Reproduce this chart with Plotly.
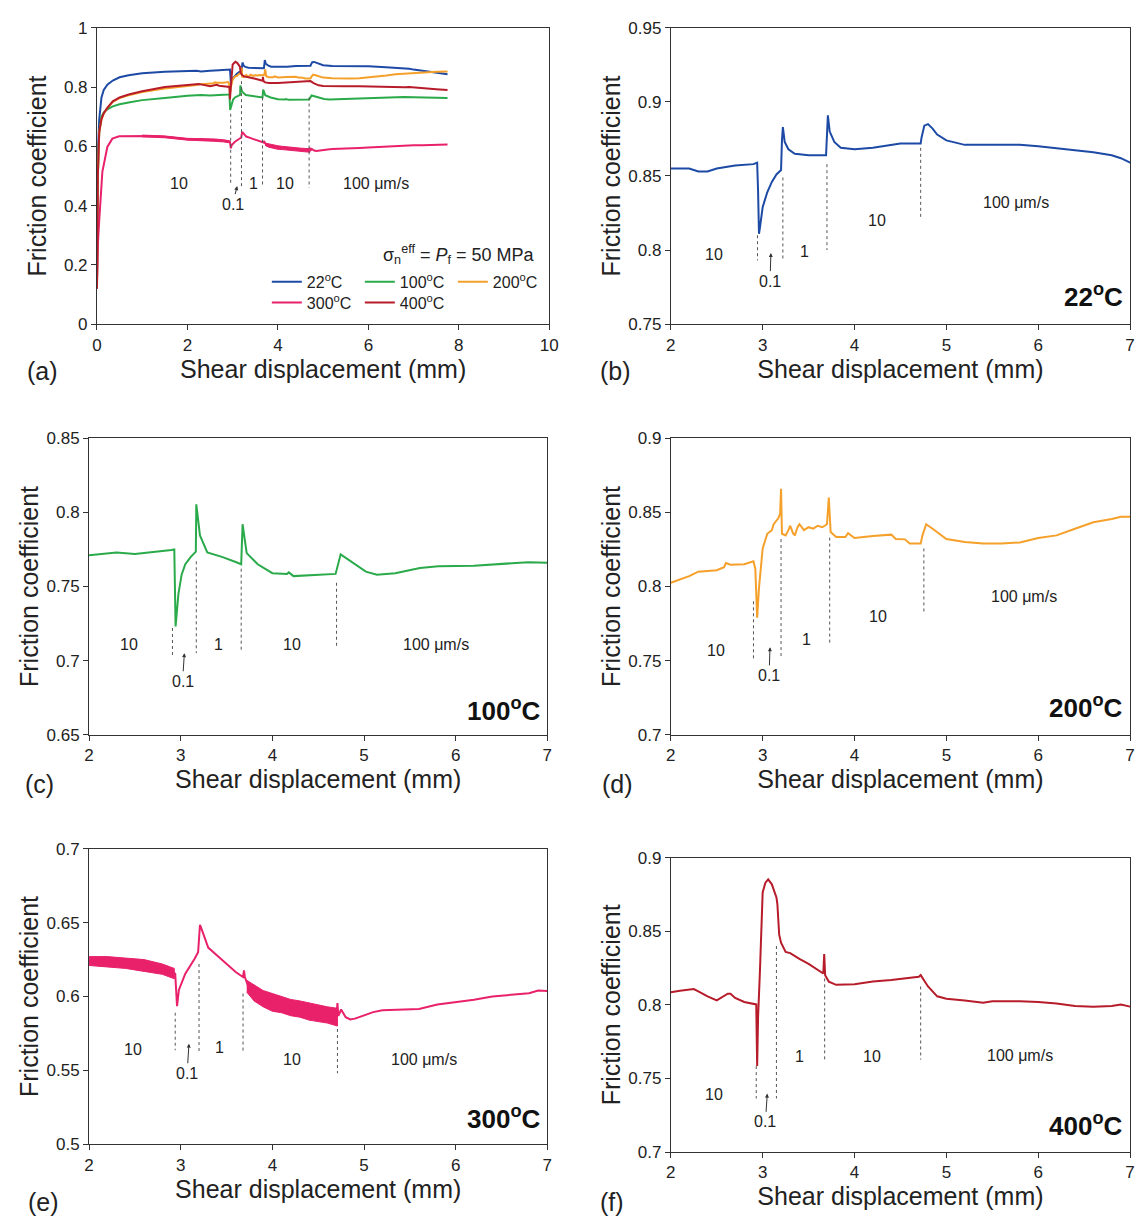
import plotly.graph_objects as go

# ---------------- data ----------------
x22 = [0, 0.01, 0.02, 0.05, 0.1, 0.15, 0.23, 0.35, 0.5, 0.7, 1.0, 1.5, 2.0, 2.2, 2.3, 2.4, 2.5, 2.7, 2.9, 2.94,
       2.95, 2.96, 2.97, 3.0, 3.05, 3.1, 3.15, 3.2, 3.21, 3.22, 3.24, 3.28, 3.35, 3.5, 3.69, 3.70, 3.71, 3.73,
       3.78, 3.85, 4.0, 4.2, 4.4, 4.5, 4.72, 4.73, 4.76, 4.8, 4.85, 4.9, 5.0, 5.2, 5.5, 5.8, 6.0, 6.3, 6.6,
       6.8, 6.9, 7.0, 7.3, 7.5, 7.75]
y22 = [0.12, 0.35, 0.57, 0.69, 0.765, 0.79, 0.808, 0.822, 0.833, 0.84, 0.847, 0.852, 0.855, 0.855, 0.853, 0.853,
       0.855, 0.857, 0.858, 0.859, 0.84, 0.811, 0.815, 0.829, 0.839, 0.846, 0.851, 0.854, 0.874, 0.883, 0.873,
       0.868, 0.865, 0.864, 0.864, 0.876, 0.891, 0.880, 0.873, 0.869, 0.868, 0.869, 0.871, 0.872, 0.872, 0.876,
       0.884, 0.885, 0.882, 0.878, 0.874, 0.871, 0.871, 0.871, 0.870, 0.868, 0.866, 0.864, 0.862, 0.859, 0.853,
       0.848, 0.843]

x100 = [0, 0.01, 0.02, 0.05, 0.1, 0.15, 0.23, 0.35, 0.5, 0.7, 1.0, 1.5, 2.0, 2.3, 2.5, 2.9, 2.93, 2.944, 2.975,
        3.01, 3.05, 3.11, 3.165, 3.17, 3.21, 3.29, 3.45, 3.6, 3.66, 3.675, 3.72, 3.84, 4.0, 4.16, 4.18, 4.23,
        4.43, 4.69, 4.745, 4.86, 5.02, 5.14, 5.34, 5.61, 5.81, 6.2, 6.6, 6.79, 7.0, 7.3, 7.5, 7.75]
y100 = [0.12, 0.3, 0.5, 0.648, 0.7, 0.715, 0.725, 0.735, 0.742, 0.748, 0.756, 0.763, 0.771, 0.773, 0.772, 0.7746,
        0.775, 0.723, 0.745, 0.758, 0.765, 0.770, 0.7735, 0.8055, 0.7845, 0.773, 0.770, 0.7665, 0.765, 0.792,
        0.7725, 0.765, 0.759, 0.7585, 0.7595, 0.757, 0.7576, 0.7585, 0.7717, 0.767, 0.760, 0.758, 0.759, 0.7625,
        0.7636, 0.764, 0.7653, 0.7664, 0.766, 0.765, 0.764, 0.763]

x200 = [0, 0.01, 0.02, 0.05, 0.1, 0.15, 0.23, 0.35, 0.5, 0.7, 1.0, 1.5, 2.0, 2.2, 2.3, 2.5, 2.58, 2.6, 2.65, 2.8,
        2.9, 2.92, 2.94, 2.96, 3.0, 3.05, 3.1, 3.12, 3.15, 3.17, 3.19, 3.2, 3.21, 3.25, 3.28, 3.3, 3.33, 3.35,
        3.38, 3.4, 3.45, 3.5, 3.55, 3.6, 3.65, 3.7, 3.72, 3.74, 3.8, 3.9, 3.93, 4.0, 4.2, 4.4, 4.45, 4.55, 4.6,
        4.72, 4.74, 4.78, 4.85, 5.0, 5.2, 5.4, 5.6, 5.8, 6.0, 6.2, 6.4, 6.6, 6.8, 6.9, 7.0, 7.2, 7.5, 7.75]
y200 = [0.12, 0.3, 0.5, 0.648, 0.69, 0.71, 0.73, 0.75, 0.763, 0.772, 0.783, 0.795, 0.8025, 0.807, 0.810, 0.811,
        0.813, 0.8158, 0.8147, 0.815, 0.817, 0.812, 0.779, 0.799, 0.8257, 0.8356, 0.838, 0.842, 0.8444, 0.846,
        0.849, 0.866, 0.8356, 0.8345, 0.838, 0.841, 0.836, 0.8345, 0.840, 0.842, 0.838, 0.840, 0.839, 0.841,
        0.840, 0.842, 0.860, 0.8367, 0.8334, 0.8334, 0.836, 0.8327, 0.834, 0.835, 0.832, 0.8318, 0.829, 0.829,
        0.8345, 0.842, 0.839, 0.832, 0.830, 0.829, 0.829, 0.8297, 0.8327, 0.8345, 0.839, 0.8433, 0.8455, 0.847,
        0.847, 0.850, 0.852, 0.853]

x300 = [0, 0.01, 0.02, 0.05, 0.12, 0.23, 0.34, 0.49, 0.8, 1.2, 1.5, 2.0, 2.2, 2.4, 2.6, 2.8, 2.9, 2.94, 2.96,
        2.98, 3.05, 3.1, 3.15, 3.19, 3.21, 3.23, 3.3, 3.4, 3.5, 3.6, 3.68, 3.69, 3.7, 3.72, 3.75, 3.9, 4.1, 4.3,
        4.5, 4.7, 4.71, 4.72, 4.75, 4.8, 4.85, 4.9, 5.0, 5.1, 5.2, 5.4, 5.6, 5.8, 6.0, 6.2, 6.4, 6.6, 6.8, 6.9,
        7.0, 7.2, 7.5, 7.75]
y300 = [0.12, 0.2, 0.27, 0.349, 0.515, 0.598, 0.626, 0.634, 0.635, 0.635, 0.632, 0.6243, 0.6243, 0.623, 0.6216,
        0.6188, 0.6166, 0.6155, 0.5934, 0.6044, 0.6155, 0.620, 0.6254, 0.630, 0.6486, 0.6453, 0.6331, 0.6276,
        0.622, 0.6166, 0.6132, 0.6176, 0.6132, 0.610, 0.6044, 0.5978, 0.5945, 0.5912, 0.5879, 0.5868, 0.5956,
        0.5868, 0.5912, 0.586, 0.5845, 0.585, 0.5872, 0.5894, 0.5907, 0.5912, 0.5916, 0.5945, 0.596, 0.5978,
        0.600, 0.6011, 0.6022, 0.604, 0.6037, 0.604, 0.605, 0.606]
# noisy envelopes of the 300 C record
band1_x = [1.0, 1.5, 2.0, 2.2, 2.4, 2.6, 2.8, 2.93]
band1_hi = [0.638, 0.635, 0.627, 0.627, 0.626, 0.625, 0.622, 0.619]
band1_lo = [0.632, 0.629, 0.621, 0.620, 0.619, 0.617, 0.615, 0.612]
band2_x = [3.72, 3.8, 3.9, 4.0, 4.1, 4.2, 4.3, 4.4, 4.5, 4.6, 4.71]
band2_hi = [0.611, 0.608, 0.604, 0.602, 0.600, 0.598, 0.597, 0.5955, 0.594, 0.593, 0.592]
band2_lo = [0.603, 0.597, 0.593, 0.590, 0.589, 0.587, 0.586, 0.584, 0.583, 0.582, 0.580]

x400 = [0, 0.01, 0.02, 0.05, 0.1, 0.15, 0.23, 0.35, 0.5, 0.7, 1.0, 1.5, 2.0, 2.1, 2.25, 2.3, 2.4, 2.5, 2.55,
        2.62, 2.65, 2.7, 2.8, 2.9, 2.93, 2.94, 2.95, 2.97, 3.0, 3.03, 3.06, 3.1, 3.15, 3.16, 3.18, 3.2, 3.25,
        3.3, 3.4, 3.5, 3.6, 3.66, 3.67, 3.68, 3.72, 3.8, 4.0, 4.2, 4.4, 4.6, 4.7, 4.72, 4.8, 4.9, 5.0, 5.2,
        5.4, 5.5, 5.8, 6.0, 6.2, 6.4, 6.6, 6.8, 6.9, 7.0, 7.3, 7.5, 7.75]
y400 = [0.12, 0.3, 0.5, 0.648, 0.692, 0.712, 0.73, 0.752, 0.765, 0.775, 0.786, 0.800, 0.8085, 0.8096, 0.8107,
        0.8092, 0.8058, 0.803, 0.8047, 0.8076, 0.8075, 0.8047, 0.802, 0.801, 0.8003, 0.7584, 0.7915, 0.8224,
        0.8764, 0.883, 0.8852, 0.8819, 0.873, 0.8687, 0.8477, 0.8422, 0.836, 0.8352, 0.8312, 0.8279, 0.8235,
        0.8213, 0.8345, 0.8202, 0.8158, 0.8136, 0.814, 0.8158, 0.8169, 0.8184, 0.8191, 0.8202, 0.8125, 0.8058,
        0.8041, 0.803, 0.8014, 0.8025, 0.8025, 0.8019, 0.801, 0.7992, 0.7988, 0.7992, 0.8003, 0.7988, 0.795,
        0.793, 0.790]

series_names = ["22<sup>o</sup>C", "100<sup>o</sup>C", "200<sup>o</sup>C", "300<sup>o</sup>C", "400<sup>o</sup>C"]
panel_titles = ["22<sup>o</sup>C", "100<sup>o</sup>C", "200<sup>o</sup>C", "300<sup>o</sup>C", "400<sup>o</sup>C"]
colors = ["#1d4aa5", "#2aaa4a", "#f5a02a", "#e8216a", "#b71c2a"]

# velocity-step markers (x position, top, bottom) per panel
steps = {
    "a": ([2.956, 3.195, 3.66, 4.69], [0.71, 0.82, 0.765, 0.765], [0.472, 0.46, 0.465, 0.46]),
    "b": ([2.944, 3.22, 3.70, 4.72], [0.810, 0.849, 0.858, 0.869], [0.793, 0.793, 0.800, 0.822]),
    "c": ([2.91, 3.17, 3.66, 4.70], [0.722, 0.767, 0.762, 0.7525], [0.703, 0.705, 0.707, 0.708]),
    "d": ([2.90, 3.20, 3.73, 4.755], [0.790, 0.832, 0.833, 0.8257], [0.7507, 0.752, 0.762, 0.7816]),
    "e": ([2.94, 3.20, 3.68, 4.71], [0.589, 0.622, 0.602, 0.578], [0.5636, 0.5625, 0.5625, 0.548]),
    "f": ([2.93, 3.15, 3.675, 4.72], [0.7584, 0.84, 0.818, 0.8125], [0.7364, 0.7364, 0.7617, 0.7628]),
}
# velocity labels: (text, x, y)
vel_labels = {
    "a": [("10", 1.82, 0.474), ("1", 3.46, 0.474), ("10", 4.16, 0.474), ("100 \u03bcm/s", 6.17, 0.474)],
    "b": [("10", 2.47, 0.797), ("1", 3.46, 0.799), ("10", 4.24, 0.820), ("100 \u03bcm/s", 5.76, 0.832)],
    "c": [("10", 2.44, 0.711), ("1", 3.41, 0.711), ("10", 4.21, 0.711), ("100 \u03bcm/s", 5.78, 0.711)],
    "d": [("10", 2.49, 0.757), ("1", 3.48, 0.764), ("10", 4.26, 0.780), ("100 \u03bcm/s", 5.84, 0.793)],
    "e": [("10", 2.48, 0.5642), ("1", 3.42, 0.5653), ("10", 4.21, 0.5576), ("100 \u03bcm/s", 5.65, 0.557)],
    "f": [("10", 2.47, 0.7393), ("1", 3.40, 0.7646), ("10", 4.19, 0.7646), ("100 \u03bcm/s", 5.80, 0.7657)],
}
# "0.1" arrow: tip (x, y), text (x, y)
arrows = {
    "a": (3.10, 0.466, 3.00, 0.405),
    "b": (3.09, 0.798, 3.08, 0.779),
    "c": (3.04, 0.705, 3.02, 0.686),
    "d": (3.08, 0.759, 3.07, 0.740),
    "e": (3.09, 0.568, 3.07, 0.548),
    "f": (3.05, 0.7397, 3.03, 0.7205),
}
temp_label_y = {"b": 0.769, "c": 0.667, "d": 0.719, "e": 0.518, "f": 0.7187}

# axes ranges and ticks
xr_a, xt_a = [0, 10], [0, 2, 4, 6, 8, 10]
yr_a, yt_a = [0, 1], [0, 0.2, 0.4, 0.6, 0.8, 1]
yt_a_txt = ["0", "0.2", "0.4", "0.6", "0.8", "1"]
xr_d, xt_d = [2, 7], [2, 3, 4, 5, 6, 7]
y_ranges = {"b": [0.75, 0.95], "c": [0.65, 0.85], "d": [0.7, 0.9], "e": [0.5, 0.7], "f": [0.7, 0.9]}
y_ticks = {
    "b": ([0.75, 0.8, 0.85, 0.9, 0.95], ["0.75", "0.8", "0.85", "0.9", "0.95"]),
    "c": ([0.65, 0.7, 0.75, 0.8, 0.85], ["0.65", "0.7", "0.75", "0.8", "0.85"]),
    "d": ([0.7, 0.75, 0.8, 0.85, 0.9], ["0.7", "0.75", "0.8", "0.85", "0.9"]),
    "e": ([0.5, 0.55, 0.6, 0.65, 0.7], ["0.5", "0.55", "0.6", "0.65", "0.7"]),
    "f": ([0.7, 0.75, 0.8, 0.85, 0.9], ["0.7", "0.75", "0.8", "0.85", "0.9"]),
}

# ---------------- layout geometry (page pixels; the page body adds an 8px offset) ----------------
OFF = 8
W, H = 1146 - OFF, 1227 - OFF
FONT = "Liberation Sans, Arial, sans-serif"
def px(v):
    return (v - OFF) / W
def py(v):
    return 1 - (v - OFF) / H

boxes = {  # left, right, top, bottom in page px
    "a": (93, 551, 19, 320),
    "b": (674, 1139, 19, 320),
    "c": (85, 549, 436, 737),
    "d": (674, 1139, 436, 737),
    "e": (85, 549, 853, 1153),
    "f": (674, 1139, 862, 1161),
}
# left edge / vertical centre of the panel letters
letter_pos = {"a": (20, 368), "b": (600, 368), "c": (18, 787), "d": (602, 787), "e": (21, 1212), "f": (600, 1212)}
ytitle_standoff = {"a": 10, "b": 0, "c": 0, "d": 0, "e": 0, "f": 0}
xtitle_standoff = {"a": 6, "b": 6, "c": 6, "d": 6, "e": 6, "f": 6}
order = ["a", "b", "c", "d", "e", "f"]
axid = {k: ("" if i == 0 else str(i + 1)) for i, k in enumerate(order)}

fig = go.Figure()

data = [(x22, y22), (x100, y100), (x200, y200), (x300, y300), (x400, y400)]

def add_bands(xa, ya):
    for bx, bh, bl in [(band1_x, band1_hi, band1_lo), (band2_x, band2_hi, band2_lo)]:
        fig.add_trace(go.Scatter(x=bx + bx[::-1], y=bh + bl[::-1], fill="toself", fillcolor=colors[3],
                                 line=dict(color=colors[3], width=1), mode="lines", showlegend=False,
                                 hoverinfo="skip", xaxis=xa, yaxis=ya))

# panel (a): all series
for i, (xs, ys) in enumerate(data):
    if i == 3:
        add_bands("x", "y")
    fig.add_trace(go.Scatter(x=xs, y=ys, mode="lines", name=series_names[i],
                             line=dict(color=colors[i], width=2),
                             legend="legend" if i < 3 else "legend2",
                             xaxis="x", yaxis="y"))

# detail panels
for i, k in enumerate(["b", "c", "d", "e", "f"]):
    xs, ys = data[i]
    a = axid[k]
    if i == 3:
        add_bands("x" + a, "y" + a)
    fig.add_trace(go.Scatter(x=xs, y=ys, mode="lines", line=dict(color=colors[i], width=2),
                             showlegend=False, xaxis="x" + a, yaxis="y" + a))

axis_common = dict(showline=True, mirror=True, linecolor="#333333", linewidth=1, ticks="outside",
                   ticklen=5, tickcolor="#333333", showgrid=False, zeroline=False,
                   tickfont=dict(size=17, color="#222222", family=FONT))
layout = dict(width=W, height=H, margin=dict(l=0, r=0, t=0, b=0), plot_bgcolor="white",
              paper_bgcolor="white", font=dict(family=FONT, color="#222222"))

for k in order:
    l, r, t, b = boxes[k]
    a = axid[k]
    xa = dict(axis_common, domain=[px(l), px(r)], anchor="y" + a,
              title=dict(text="Shear displacement (mm)", font=dict(size=25), standoff=xtitle_standoff[k]))
    ya = dict(axis_common, domain=[py(b), py(t)], anchor="x" + a,
              title=dict(text="Friction coefficient", font=dict(size=25), standoff=ytitle_standoff[k]))
    if k == "a":
        xa.update(range=xr_a, tickvals=xt_a)
        ya.update(range=yr_a, tickvals=yt_a, ticktext=yt_a_txt)
    else:
        xa.update(range=xr_d, tickvals=xt_d)
        ya.update(range=y_ranges[k], tickvals=y_ticks[k][0], ticktext=y_ticks[k][1])
    layout["xaxis" + a] = xa
    layout["yaxis" + a] = ya

shapes = []
annotations = []
for k in order:
    a = axid[k]
    xs_, tops, bots = steps[k]
    for xv, tv, bv in zip(xs_, tops, bots):
        shapes.append(dict(type="line", xref="x" + a, yref="y" + a, x0=xv, x1=xv, y0=tv, y1=bv,
                           line=dict(color="#555555", width=1, dash="3px,3px")))
    for txt, xv, yv in vel_labels[k]:
        annotations.append(dict(text=txt, x=xv, y=yv, xref="x" + a, yref="y" + a, showarrow=False,
                                font=dict(size=16, color="#222222")))
    tx, ty, lx, ly = arrows[k]
    annotations.append(dict(text="0.1", x=tx, y=ty, ax=lx, ay=ly, xref="x" + a, yref="y" + a,
                            axref="x" + a, ayref="y" + a, showarrow=True, arrowhead=2, arrowsize=0.8,
                            arrowwidth=1, arrowcolor="#333333", standoff=0, startstandoff=0,
                            font=dict(size=16, color="#222222")))
    lxp, lyp = letter_pos[k]
    annotations.append(dict(text="(" + k + ")", x=px(lxp), y=py(lyp), xref="paper", yref="paper",
                            xanchor="left", yanchor="middle", showarrow=False,
                            font=dict(size=25, color="#222222")))

for i, k in enumerate(["b", "c", "d", "e", "f"]):
    a = axid[k]
    annotations.append(dict(text="<b>" + panel_titles[i] + "</b>", x=6.95, y=temp_label_y[k],
                            xref="x" + a, yref="y" + a, xanchor="right", yanchor="middle", showarrow=False,
                            font=dict(size=26, color="#111111")))

annotations.append(dict(text="\u03c3<sub>n</sub><sup>eff</sup> = <i>P</i><sub>f</sub> = 50 MPa",
                        x=9.7, y=0.234, xref="x", yref="y", xanchor="right", yanchor="middle",
                        showarrow=False, font=dict(size=18, color="#222222")))

layout["shapes"] = shapes
layout["annotations"] = annotations
leg = dict(orientation="h", xanchor="left", yanchor="middle", font=dict(size=16, family=FONT),
           itemwidth=30, entrywidth=48, bgcolor="rgba(0,0,0,0)", borderwidth=0, tracegroupgap=0)
layout["legend"] = dict(leg, x=px(265), y=py(277))
layout["legend2"] = dict(leg, x=px(265), y=py(298))

fig.update_layout(**layout)
fig.write_html("out.html")
